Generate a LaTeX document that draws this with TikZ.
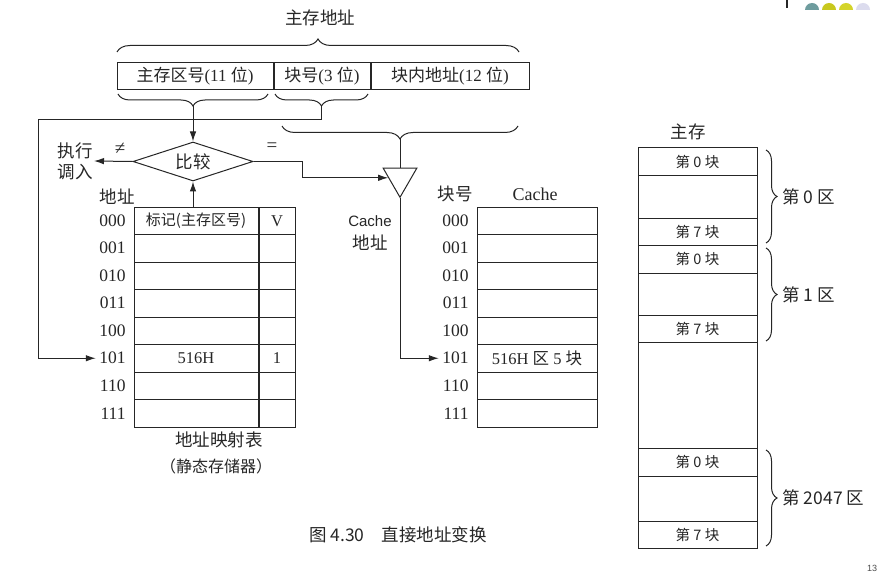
\documentclass[tikz,border=0pt]{standalone}
\usepackage{fontspec}
\setmainfont{Liberation Serif}
\setsansfont{Liberation Sans}
\newfontfamily\zhfont{Noto Sans CJK SC}
\usepackage{xcolor}
\usepackage{tikz}
\usetikzlibrary{arrows.meta, positioning, shapes.geometric, decorations.pathreplacing}

\definecolor{dotteal}{HTML}{6E9C9E}
\definecolor{dotolive}{HTML}{C8C81E}
\definecolor{dotyellow}{HTML}{D4D42A}
\definecolor{dotlilac}{HTML}{DCDCEE}

\begin{document}
\begin{tikzpicture}[
  x=1pt, y=-1pt,
  color=black!85,
  line width=1pt,
  every node/.style={inner sep=1pt},
  arrow/.style={-{Latex[length=10pt, width=6.5pt]}},
  addr/.style={draw, minimum height=27pt, inner sep=0pt, font=\fontsize{17}{20}\selectfont},
  cell/.style={draw, minimum height=27.5pt, inner sep=0pt},
  mcell/.style={draw, minimum width=119pt, inner sep=0pt, font=\zhfont\fontsize{14.5}{16}\selectfont},
  idx/.style={anchor=east, font=\fontsize{17.5}{19}\selectfont},
  zh/.style={font=\zhfont\fontsize{17.5}{21}\selectfont},
  topbrace/.style={decorate, decoration={brace, amplitude=13pt}},
  downbrace/.style={decorate, decoration={brace, mirror, amplitude=12pt}},
  sidebrace/.style={decorate, decoration={brace, amplitude=11pt}},
]
\fill[white] (0,0) rectangle (880,572);
\useasboundingbox (0,0) rectangle (880,572);

% Main memory address fields
\node[zh] (title) at (320,18) {主存地址};
\draw[topbrace] (117,52) -- (519,52);
\node[addr, minimum width=156pt] (zone) at (195,76.5) {{\zhfont 主存区号}(11 {\zhfont 位})};
\node[addr, minimum width=96pt, right=0pt of zone] (blk) {{\zhfont 块号}(3 {\zhfont 位})};
\node[addr, minimum width=158pt, right=0pt of blk] (off) {{\zhfont 块内地址}(12 {\zhfont 位})};

\draw[downbrace] (118,94) -- (268,94);
\coordinate (b1) at (193,106);
\draw[downbrace] (275,94) -- (368,94);
\coordinate (b2) at (321.5,106);
\draw[downbrace, decoration={amplitude=13pt}] (282,126) -- (518,126);
\coordinate (b3) at (400,139);
\coordinate (lft) at (38,120);

% Compare
\node[diamond, draw, aspect=3, minimum width=120pt, minimum height=39pt, inner sep=0pt, zh] (cmp) at (193,161.5) {比较};
\node[zh, align=center] (exe) at (75,161) {执行\\调入};
\node[font=\fontsize{19}{20}\selectfont] (ne) at (120,149) {≠};
\node[font=\fontsize{19}{20}\selectfont] (eq) at (272,147) {=};

% Address mapping table
\node[zh] (addrlbl) at (117,197) {地址};
\foreach \i/\b in {0/000,1/001,2/010,3/011,4/100,5/101,6/110,7/111} {
  \node[cell, minimum width=124pt] (tag\i) at (196,{220.75+27.5*\i}) {};
  \node[cell, minimum width=36pt, right=0pt of tag\i] (v\i) {};
  \node[idx] (tr\i) at (127,{220.75+27.5*\i}) {\b};
}
\node[font=\zhfont\fontsize{15}{17}\selectfont] (taghd) at (tag0) {标记(主存区号)};
\node[font=\fontsize{16.5}{18}\selectfont] (vhd) at (v0) {V};
\node[font=\fontsize{16.5}{18}\selectfont] (tagval) at (tag5) {516H};
\node[font=\fontsize{16.5}{18}\selectfont] (vval) at (v5) {1};
\node[zh] (maptbl) at (219,440) {地址映射表};
\node[font=\zhfont\fontsize{16}{18}\selectfont] (sram) at (216,466) {（静态存储器）};

% Cache
\node[regular polygon, regular polygon sides=3, shape border rotate=180, draw, minimum size=39pt, inner sep=0pt] (sel) at (400,177.8) {};
\node[align=center, font=\zhfont\fontsize{17.5}{23}\selectfont] (caddr) at (370,233) {{\sffamily\fontsize{15}{23}\selectfont Cache}\\地址};
\node[zh] (blkhd) at (455,194) {块号};
\node[font=\fontsize{18}{20}\selectfont] (cachehd) at (535,194) {Cache};
\foreach \i/\b in {0/000,1/001,2/010,3/011,4/100,5/101,6/110,7/111} {
  \node[cell, minimum width=120pt] (cb\i) at (537,{220.75+27.5*\i}) {};
  \node[idx] (cr\i) at (470,{220.75+27.5*\i}) {\b};
}
\node[font=\fontsize{16.5}{18}\selectfont] (cval) at (cb5) {516H {\zhfont 区} 5 {\zhfont 块}};

% Connectors
\draw[arrow] (b1) -- (cmp.north);
\draw[arrow, shorten >=2pt] (b2) |- (lft) |- (tr5.west);
\draw[arrow] (cmp.south |- tag0.north) -- (cmp.south);
\draw[arrow] (cmp.west) -- (exe.east);
\draw[arrow] (cmp.east) -- ++(49,0) |- (sel.west);
\draw (b3) -- (sel.north);
\draw[arrow, shorten >=2pt] (sel.south) |- (cr5.west);

% Main memory
\node[zh] (mmhd) at (688,132) {主存};
\foreach \k/\t/\b/\s in {1/148/176/第 0 块, 2/176/218/{}, 3/218/245/第 7 块, 4/245/273/第 0 块, 5/273/315/{}, 6/315/342/第 7 块, 7/342/448/{}, 8/448/476/第 0 块, 9/476/521/{}, 10/521/548/第 7 块}
  \node[mcell, minimum height={\b-\t}] (mm\k) at (697.5,{(\t+\b)/2}) {\s};

\draw[sidebrace] (766,150) -- (766,243);
\node[zh, anchor=west] (z0) at (781,196.5) {第 0 区};
\draw[sidebrace] (766,248) -- (766,341);
\node[zh, anchor=west] (z1) at (781,294.5) {第 1 区};
\draw[sidebrace] (766,450) -- (766,546);
\node[zh, anchor=west] (z2047) at (781,498) {第 2047 区};

% Caption
\node[zh] (cap) at (398,535) {图 4.30\quad 直接地址变换};

% Slide marks
\draw[line width=1.2pt] (787,0) -- (787,8);
\fill[dotteal] (805,10) arc[start angle=180, end angle=360, radius=7];
\fill[dotolive] (822,10) arc[start angle=180, end angle=360, radius=7];
\fill[dotyellow] (839,10) arc[start angle=180, end angle=360, radius=7];
\fill[dotlilac] (856,10) arc[start angle=180, end angle=360, radius=7];
\node[font=\sffamily\fontsize{9}{10}\selectfont, text=black!70] (pg) at (872,568) {13};

\end{tikzpicture}
\end{document}
